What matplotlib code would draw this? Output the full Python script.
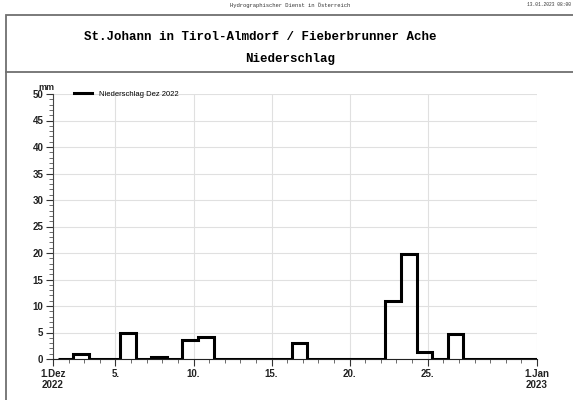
import matplotlib
matplotlib.use("Agg")
import matplotlib.pyplot as plt
import matplotlib.dates as mdates
from matplotlib.patches import Rectangle
from matplotlib.lines import Line2D
from datetime import datetime, timedelta

# Daily precipitation Dec 2022 (mm), hydrological day 07:00 -> 07:00
days = list(range(1, 32))
precip = [0.0, 1.0, 0.0, 0.0, 5.0, 0.0, 0.3, 0.0, 3.6, 4.2,
          0.0, 0.0, 0.0, 0.0, 0.0, 3.0, 0.0, 0.0, 0.0, 0.0,
          0.0, 10.9, 19.8, 1.4, 0.0, 4.7, 0.0, 0.0, 0.0, 0.0, 0.0]
tick_days = [1, 5, 10, 15, 20, 25]
tick_labels = ['1.Dez\n2022', '5.', '10.', '15.', '20.', '25.', '1.Jan\n2023']

title1 = 'St.Johann in Tirol-Almdorf / Fieberbrunner Ache'
title2 = 'Niederschlag'
header = 'Hydrographischer Dienst in Österreich'
stamp = '13.01.2023 08:00'
legend_label = 'Niederschlag Dez 2022'

plt.rcParams['font.family'] = ['Liberation Sans', 'DejaVu Sans']

fig = plt.figure(figsize=(5.73, 4.0), dpi=100)

# Page frame and title box
frame_col = '#707070'
fig.add_artist(Rectangle((6 / 573, -0.05), 1.0, 1 - 15 / 400 + 0.05,
                         transform=fig.transFigure, fill=False,
                         edgecolor=frame_col, linewidth=1.3))
fig.add_artist(Line2D([6 / 573, 1.0], [1 - 72 / 400] * 2,
                      transform=fig.transFigure, color=frame_col, linewidth=1.3))

fig.text(290 / 573, 1 - 5 / 400, header, ha='center', va='center',
         fontsize=4, family='Liberation Mono', color='#333333')
fig.text(571 / 573, 1 - 5 / 400, stamp, ha='right', va='center',
         fontsize=3.3, family='Liberation Mono', color='#333333')
fig.text(260 / 573, 1 - 37 / 400, title1, ha='center', va='center',
         fontsize=9, family='Liberation Mono', weight='bold')
fig.text(290 / 573, 1 - 59 / 400, title2, ha='center', va='center',
         fontsize=9, family='Liberation Mono', weight='bold')

ax = fig.add_axes([53 / 573, 1 - 359 / 400, (537 - 53) / 573, (359 - 94) / 400])

start = datetime(2022, 12, 1)
edges = [start + timedelta(days=d - 1, hours=7) for d in days] + \
        [start + timedelta(days=days[-1], hours=7)]
ax.stairs(precip, mdates.date2num(edges), baseline=None,
          color='black', linewidth=2.2, label=legend_label)

ax.set_xlim(mdates.date2num(start), mdates.date2num(datetime(2023, 1, 1)))
ax.set_ylim(0, 50)

major = [mdates.date2num(start + timedelta(days=d - 1)) for d in tick_days]
major.append(mdates.date2num(datetime(2023, 1, 1)))
ax.set_xticks(major)
ax.set_xticklabels(tick_labels)
ax.set_xticks([mdates.date2num(start + timedelta(days=d)) for d in range(32)], minor=True)
ax.set_yticks(range(0, 51, 5))
ax.set_yticks(range(0, 51, 1), minor=True)

ax.grid(True, which='major', color='#e0e0e0', linewidth=0.8)
ax.set_axisbelow(True)
for s in ['top', 'right']:
    ax.spines[s].set_visible(False)
ax.spines['left'].set_color('#444444')
ax.spines['bottom'].set_color('#222222')
ax.tick_params(which='major', length=5, width=0.8, colors='#333333',
               labelsize=7, labelcolor='black', pad=2)
ax.tick_params(which='minor', length=3, width=0.6, colors='#555555')
for lbl in ax.get_xticklabels() + ax.get_yticklabels():
    lbl.set_fontweight('bold')
    lbl.set_color('#222222')

fig.text(38 / 573, 1 - 87 / 400, 'mm', ha='left', va='center',
         fontsize=6.5, weight='bold', color='#222222')

ax.legend(loc='center left', bbox_to_anchor=(0.035, 1.0), frameon=False,
          fontsize=5.5, handlelength=2.4, handletextpad=0.9, borderpad=0)

fig.savefig('out.png', dpi=100)
